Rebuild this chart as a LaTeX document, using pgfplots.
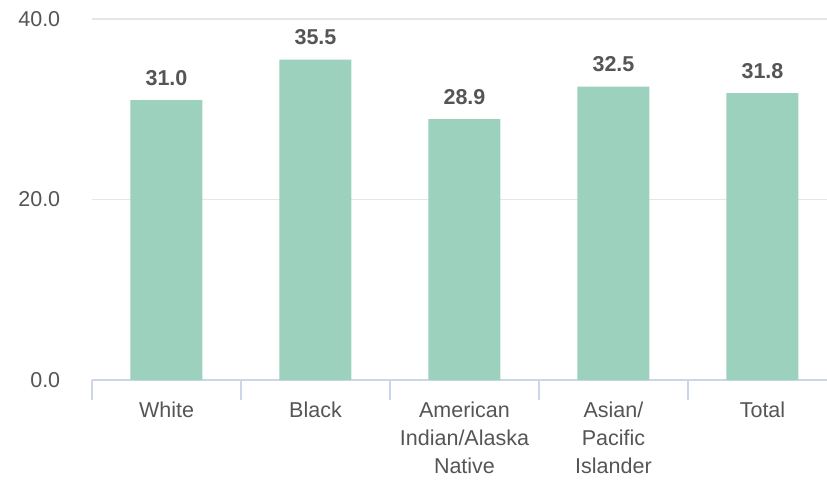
\documentclass[border=0pt]{standalone}
\usepackage{pgfplots}
\pgfplotsset{compat=1.18}
\usepackage{fontspec}
\setmainfont{Liberation Sans}
\definecolor{barc}{HTML}{9BD1BD}
\definecolor{txt}{HTML}{555555}
\definecolor{axc}{HTML}{CCD6EB}
\definecolor{gridc}{HTML}{E6E6E6}
\begin{document}
\begin{tikzpicture}
\begin{axis}[
  at={(0pt,0pt)}, anchor=south west,
  scale only axis, width=735pt, height=361pt,
  xmin=-0.5, xmax=4.433, ymin=0, ymax=40,
  axis x line*=bottom, axis y line*=left,
  x axis line style={draw=axc, line width=1.2pt},
  y axis line style={draw=none},
  xtick={0,1,2,3,4},
  xticklabels={White, Black, {American\\Indian/Alaska\\Native}, {Asian/\\Pacific\\Islander}, Total},
  major x tick style={draw=none},
  minor xtick={-0.5,0.5,1.5,2.5,3.5},
  minor x tick style={draw=axc, line width=1.2pt},
  minor tick length=20pt,
  tick align=outside,
  x tick label style={align=center, font=\fontsize{21.5}{28}\selectfont, text=txt, yshift=-14pt},
  ytick={0,20,40},
  major y tick style={draw=none},
  y tick label style={/pgf/number format/fixed, /pgf/number format/fixed zerofill, /pgf/number format/precision=1, /pgf/number format/assume math mode=true, font=\fontsize{21.5}{24}\selectfont, text=txt, xshift=-24pt},
  ymajorgrids, grid style={draw=gridc, line width=1.2pt},
  clip=false,
  ybar, bar width=72pt,
  nodes near coords,
  nodes near coords style={/pgf/number format/fixed, /pgf/number format/fixed zerofill, /pgf/number format/precision=1, /pgf/number format/assume math mode=true, font=\bfseries\fontsize{21.5}{24}\selectfont, text=txt, yshift=11pt},
]
\addplot[fill=barc, draw=none] coordinates {(0,31.0) (1,35.5) (2,28.9) (3,32.5) (4,31.8)};
\end{axis}
\pgfresetboundingbox
\path[use as bounding box] (-92pt,-102pt) rectangle (735pt,380pt);
\end{tikzpicture}
\end{document}
